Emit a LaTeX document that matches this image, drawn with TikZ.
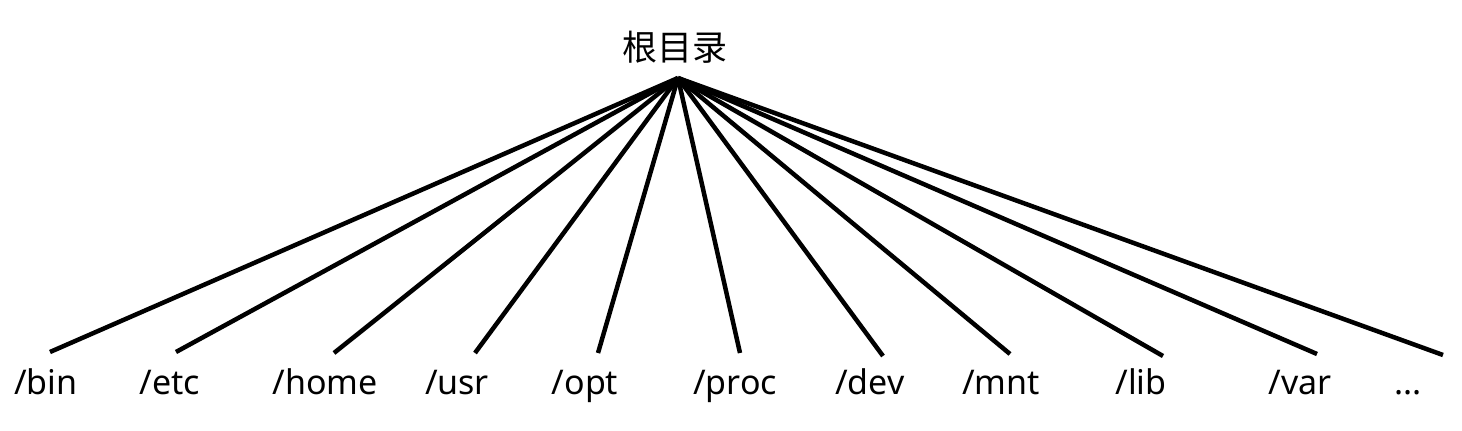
\documentclass[tikz,border=0pt]{standalone}
\usepackage{fontspec}
\setmainfont{Noto Sans}
\newfontfamily\cjk{Noto Sans CJK SC}
\begin{document}
\begin{tikzpicture}[x=1pt,y=-1pt,
  branch/.style={line width=4.5pt},
  dirlabel/.style={anchor=base,inner sep=0pt,font=\fontsize{34}{38}\selectfont}]
\useasboundingbox (0,0) rectangle (1462,431);
\node[inner sep=0pt,font=\cjk\fontsize{35}{40}\selectfont] (root) at (675,47) {根目录};
\coordinate (apex) at (678,78);
\foreach \n/\lx/\ex/\ey/\t in {
  bin/46/50/352/{/bin},
  etc/170/176/352/{/etc},
  home/325/334/353/{/home},
  usr/457/475/353/{/usr},
  opt/585/598/353/{/opt},
  proc/735/740/353/{/proc},
  dev/870/883/356/{/dev},
  mnt/1001/1010/354/{/mnt},
  lib/1141/1163/356/{/lib},
  var/1300/1317/354/{/var},
  more/1408/1443/355/{...}} {
  \node[dirlabel] (\n) at (\lx,394) {\t};
  \coordinate (e\n) at (\ex,\ey);
  \draw[branch] (apex) -- (e\n);
}
\end{tikzpicture}
\end{document}
